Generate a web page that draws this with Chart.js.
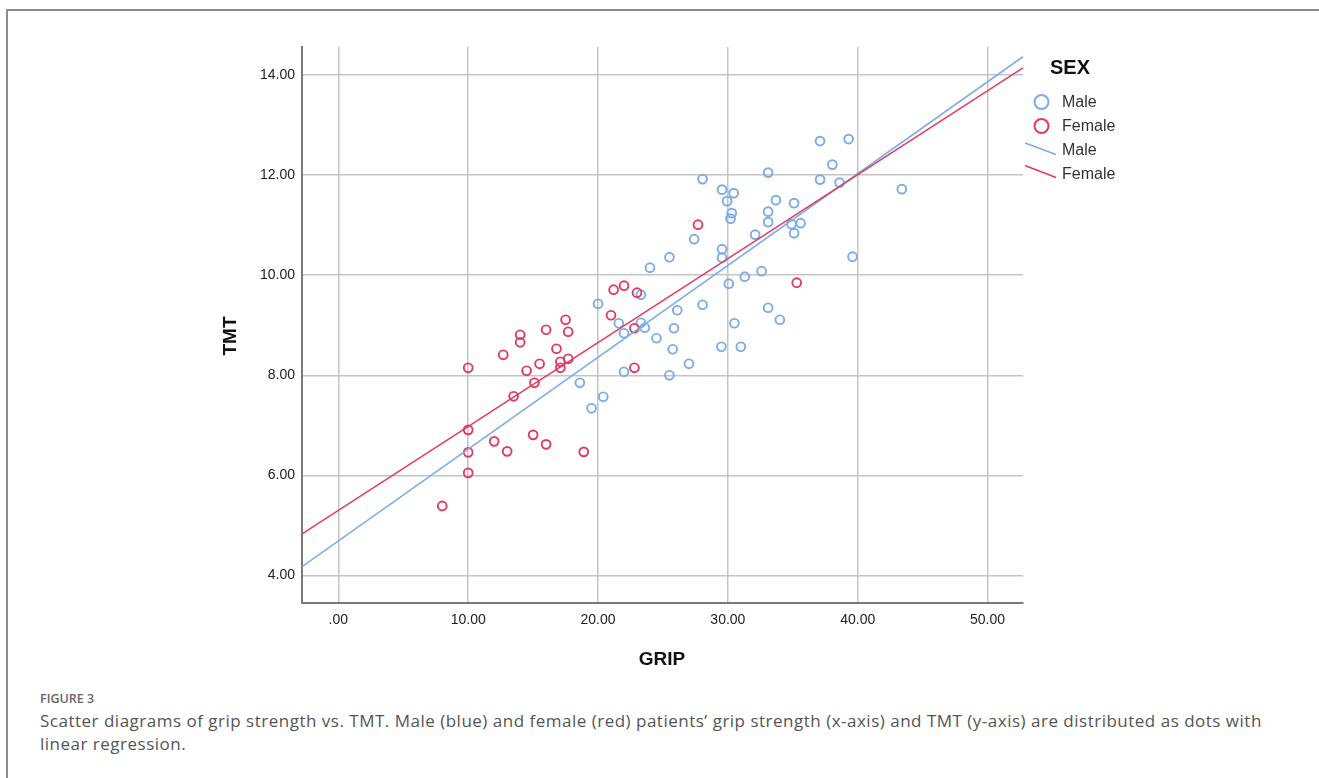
<!DOCTYPE html>
<html>
<head>
<meta charset="utf-8">
<script src="https://cdn.jsdelivr.net/npm/chart.js@4.4.1/dist/chart.umd.min.js"></script>
<style>
  body { margin: 0; background: #fff; width: 1319px; height: 778px; overflow: hidden; position: relative; }
  #frame { position: absolute; left: 6px; top: 9px; width: 1400px; height: 900px;
           border-top: 2px solid #8c8c8c; border-left: 2px solid #8c8c8c; }
  #wrap { position: absolute; left: 0; top: 0; width: 1319px; height: 680px; }
  #cap { position: absolute; left: 40px; top: 689px; width: 1275px;
         font-family: "Open Sans", "Noto Sans", sans-serif; color: #555; white-space: nowrap; }
  #cap .fig { font-size: 12.5px; font-weight: 600; color: #666; line-height: 20px; }
  #cap .txt { font-size: 17px; letter-spacing: 0.5px; line-height: 23px; }
</style>
</head>
<body>
<div id="frame"></div>
<div id="wrap"><canvas id="chart"></canvas></div>
<div id="cap">
  <div class="fig">FIGURE 3</div>
  <div class="txt">Scatter diagrams of grip strength vs. TMT. Male (blue) and female (red) patients’ grip strength (x-axis) and TMT (y-axis) are distributed as dots with<br>linear regression.</div>
</div>
<script>
// valores
const maleGrip = [37.1, 39.3, 38.05, 33.1, 37.1, 38.6, 43.4, 28.05, 29.55, 30.45, 29.94, 33.7, 35.1,
                  33.1, 30.3, 30.2, 33.1, 34.9, 35.6, 35.1, 32.1, 27.4, 29.55, 29.55, 25.5, 39.6,
                  24.0, 32.6, 31.3, 30.07, 20.0, 23.3, 26.1, 28.05, 33.1, 34.0, 30.5, 21.6, 23.3,
                  23.6, 22.0, 25.85, 24.5, 25.75, 29.5, 31.0, 27.0, 22.0, 25.5, 18.6, 20.4, 19.5];
const maleTmt = [12.68, 12.72, 12.21, 12.05, 11.91, 11.85, 11.72, 11.92, 11.71, 11.64, 11.48, 11.5, 11.44,
                 11.27, 11.24, 11.13, 11.06, 11.02, 11.04, 10.84, 10.81, 10.72, 10.52, 10.35, 10.36, 10.37,
                 10.15, 10.08, 9.97, 9.83, 9.43, 9.61, 9.30, 9.41, 9.35, 9.11, 9.04, 9.04, 9.05,
                 8.95, 8.84, 8.94, 8.74, 8.52, 8.57, 8.57, 8.23, 8.07, 8.0, 7.85, 7.57, 7.34];

const femaleGrip = [21.2, 22.0, 23.0, 21.0, 22.8, 22.8, 17.5, 14.0, 14.0, 16.0, 17.7, 12.7, 16.8, 15.5,
                    14.5, 17.1, 17.1, 17.7, 15.1, 13.5, 10.0, 10.0, 10.0, 10.0, 8.0, 12.0, 13.0, 15.0,
                    16.0, 18.9, 27.7, 35.3];
const femaleTmt = [9.71, 9.79, 9.65, 9.2, 8.94, 8.15, 9.11, 8.81, 8.66, 8.91, 8.87, 8.41, 8.53, 8.23,
                   8.09, 8.27, 8.15, 8.33, 7.85, 7.58, 8.15, 6.91, 6.46, 6.05, 5.39, 6.68, 6.48, 6.81,
                   6.62, 6.47, 11.01, 9.85];

// recta de regresion: [intercepto, pendiente]
const maleFit = [4.69, 0.1835];
const femaleFit = [5.30, 0.1677];

const xTicks = [0, 10, 20, 30, 40, 50];
const yTicks = [4, 6, 8, 10, 12, 14];
const xRange = [-2.8, 52.73];
const yRange = [3.45, 14.56];

const azul = '#7aace8';
const rojo = '#e23b62';
const fuente = '"Liberation Sans", Arial, sans-serif';

function puntos(xs, ys) {
    return xs.map((x, i) => ({ x: x, y: ys[i] }));
}

function recta(fit) {
    return xRange.map(x => ({ x: x, y: fit[0] + fit[1] * x }));
}

function etiqueta(v) {
    const s = Number(v).toFixed(2);
    return s.startsWith('0') ? s.slice(1) : s;
}

// titulos de ejes y leyenda
const extras = {
    id: 'extras',
    afterDraw(chart) {
        const ctx = chart.ctx;
        ctx.save();
        ctx.fillStyle = '#111';
        ctx.textBaseline = 'middle';
        ctx.font = 'bold 19px ' + fuente;
        ctx.textAlign = 'center';
        ctx.fillText('GRIP', 662, 660);
        ctx.save();
        ctx.translate(231, 336);
        ctx.rotate(-Math.PI / 2);
        ctx.fillText('TMT', 0, 0);
        ctx.restore();

        ctx.textAlign = 'left';
        ctx.font = 'bold 20px ' + fuente;
        ctx.fillText('SEX', 1050, 68);

        ctx.lineWidth = 2;
        ctx.strokeStyle = azul;
        ctx.beginPath(); ctx.arc(1041.5, 102, 7, 0, Math.PI * 2); ctx.stroke();
        ctx.strokeStyle = rojo;
        ctx.beginPath(); ctx.arc(1041.5, 126, 7, 0, Math.PI * 2); ctx.stroke();
        ctx.lineWidth = 1.6;
        ctx.strokeStyle = azul;
        ctx.beginPath(); ctx.moveTo(1025, 143); ctx.lineTo(1056, 154.5); ctx.stroke();
        ctx.strokeStyle = rojo;
        ctx.beginPath(); ctx.moveTo(1025, 165.5); ctx.lineTo(1056, 177.5); ctx.stroke();

        ctx.fillStyle = '#333';
        ctx.font = '16px ' + fuente;
        ['Male', 'Female', 'Male', 'Female'].forEach((t, i) => {
            ctx.fillText(t, 1062, 102.5 + i * 24);
        });
        ctx.restore();
    }
};

new Chart(document.getElementById('chart'), {
    type: 'scatter',
    data: {
        datasets: [
            {
                label: 'Male',
                data: puntos(maleGrip, maleTmt),
                borderColor: azul,
                backgroundColor: 'transparent',
                pointRadius: 4.4,
                borderWidth: 1.9,
                order: 3
            },
            {
                label: 'Female',
                data: puntos(femaleGrip, femaleTmt),
                borderColor: rojo,
                backgroundColor: 'transparent',
                pointRadius: 4.4,
                borderWidth: 1.9,
                order: 2
            },
            {
                type: 'line',
                label: 'Male fit',
                data: recta(maleFit),
                borderColor: azul,
                borderWidth: 1.6,
                pointRadius: 0,
                fill: false,
                order: 1
            },
            {
                type: 'line',
                label: 'Female fit',
                data: recta(femaleFit),
                borderColor: rojo,
                borderWidth: 1.6,
                pointRadius: 0,
                fill: false,
                order: 0
            }
        ]
    },
    options: {
        responsive: true,
        maintainAspectRatio: false,
        animation: false,
        layout: { padding: { left: 0, top: 47, right: 296, bottom: 0 } },
        plugins: {
            legend: { display: false },
            tooltip: { enabled: false }
        },
        scales: {
            x: {
                type: 'linear',
                min: xRange[0],
                max: xRange[1],
                afterBuildTicks: s => { s.ticks = xTicks.map(v => ({ value: v })); },
                afterFit: s => { s.height = 77; },
                grid: { color: '#c4c4c4', lineWidth: 1.5, drawTicks: false },
                border: { display: true, color: '#7a7a7a', width: 2 },
                ticks: { padding: 9, color: '#222', font: { family: fuente, size: 14 }, callback: etiqueta }
            },
            y: {
                type: 'linear',
                min: yRange[0],
                max: yRange[1],
                afterBuildTicks: s => { s.ticks = yTicks.map(v => ({ value: v })); },
                afterFit: s => { s.width = 302; },
                grid: { color: '#c4c4c4', lineWidth: 1.5, drawTicks: false },
                border: { display: true, color: '#7a7a7a', width: 2 },
                ticks: { padding: 7, color: '#222', font: { family: fuente, size: 14 }, callback: etiqueta }
            }
        }
    },
    plugins: [extras]
});
</script>
</body>
</html>
